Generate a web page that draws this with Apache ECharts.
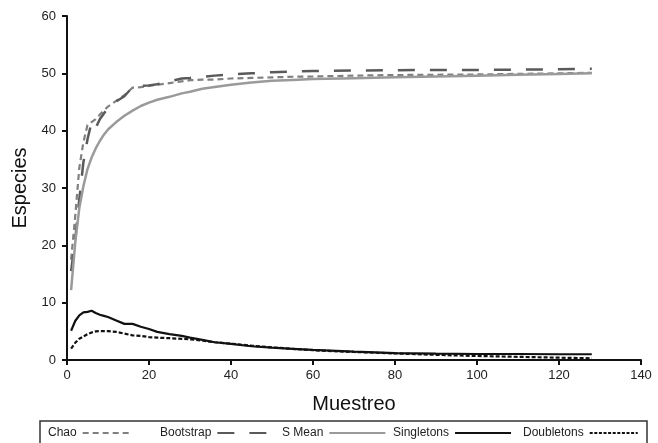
<!DOCTYPE html>
<html>
<head>
<meta charset="utf-8">
<script src="https://cdn.jsdelivr.net/npm/echarts@6/dist/echarts.min.js"></script>
<style>html,body{margin:0;padding:0;background:#fff}#c{width:658px;height:443px}</style>
</head>
<body>
<div id="c"></div>
<script>
const samples   = [1,2,3,4,5,6,7,8,9,10,12,14,16,18,20,22,25,28,30,33,36,40,45,50,55,60,70,80,90,100,110,120,128];
const chao      = [17.5,25,33.5,38,41,41.5,42,42.8,43.5,44.2,45.2,46.2,47.5,47.6,47.8,48.0,48.3,48.6,48.8,48.9,48.9,49.1,49.2,49.3,49.4,49.45,49.6,49.7,49.75,49.8,49.9,50.0,50.1];
const bootstrap = [15.5,21,28,34.5,38.5,41.5,40.5,42,43,44,45.1,46,47.6,47.8,47.9,48.1,48.6,49.1,49.2,49.4,49.6,49.8,50.0,50.2,50.3,50.4,50.5,50.55,50.6,50.6,50.65,50.7,50.8];
const sMean     = [12.2,20.4,26.5,30.3,33.3,35.3,36.9,38.2,39.3,40.2,41.5,42.6,43.5,44.3,44.9,45.4,45.9,46.5,46.8,47.3,47.6,48.0,48.4,48.7,48.85,49.0,49.15,49.3,49.45,49.6,49.75,49.9,50.0];
const singletons= [5.1,6.8,7.8,8.3,8.4,8.6,8.2,7.9,7.7,7.5,6.9,6.3,6.3,5.8,5.4,4.9,4.5,4.2,3.9,3.5,3.1,2.8,2.4,2.15,1.95,1.75,1.45,1.2,1.1,1.05,1.05,1.0,1.0];
const doubletons= [2.0,3.0,3.7,4.1,4.5,4.8,5.0,5.05,5.05,5.05,4.9,4.6,4.3,4.2,4.0,3.9,3.8,3.7,3.6,3.4,3.1,2.85,2.5,2.2,1.95,1.7,1.4,1.15,0.9,0.7,0.55,0.4,0.3];
const seriesNames = ['Chao','Bootstrap','S Mean','Singletons','Doubletons'];

const pair = arr => samples.map((x,i)=>[x,arr[i]]);
const font = 'Liberation Sans, Arial, sans-serif';
function line(name, arr, color, width, type){
  return {name, type:'line', data:pair(arr), symbol:'none', smooth:false,
    lineStyle:{color, width, type}, itemStyle:{color}, z: 2};
}
const legendLeft = [48,160,282,393,523];
const legendIconW = [50,50,56,56,48];
const legendDash = [null,null,null,null,[3,1.6]];
const legends = seriesNames.map((n,i)=>({
  data:[n], left:legendLeft[i], top:427, align:'right', padding:0,
  itemWidth:legendIconW[i], itemHeight:10, itemStyle:{opacity:0},
  lineStyle: legendDash[i] ? {type:legendDash[i]} : {},
  textStyle:{fontSize:12, color:'#222', fontFamily:font, padding:[0,1,0,0]}
}));
const chart = echarts.init(document.getElementById('c'), null, {renderer:'canvas'});
chart.setOption({
  animation:false,
  backgroundColor:'#fff',
  grid:{left:67, right:17, top:16, bottom:83, containLabel:false},
  xAxis:{type:'value', min:0, max:140, interval:20,
    name:'Muestreo', nameLocation:'middle', nameGap:34,
    nameTextStyle:{fontSize:20, color:'#111', fontFamily:font},
    axisLine:{show:true, lineStyle:{color:'#111', width:2}},
    axisTick:{show:true, length:5, lineStyle:{color:'#111', width:2}},
    axisLabel:{fontSize:13, color:'#222', fontFamily:font, margin:9},
    splitLine:{show:false}},
  yAxis:{type:'value', min:0, max:60, interval:10,
    name:'Especies', nameLocation:'middle', nameGap:34,
    nameTextStyle:{fontSize:20, color:'#111', fontFamily:font},
    axisLine:{show:true, lineStyle:{color:'#111', width:2}},
    axisTick:{show:true, length:5, lineStyle:{color:'#111', width:2}},
    axisLabel:{fontSize:13, color:'#222', fontFamily:font, margin:11},
    splitLine:{show:false}},
  legend:legends,
  graphic:[{type:'rect', shape:{x:40, y:421, width:607, height:40},
    style:{fill:'none', stroke:'#333', lineWidth:1.5}, silent:true}],
  series:[
    line('Chao', chao, '#808080', 2.2, [6,4]),
    line('Bootstrap', bootstrap, '#5a5a5a', 2.5, [17,15]),
    line('S Mean', sMean, '#9a9a9a', 2.5, 'solid'),
    line('Singletons', singletons, '#111', 2.2, 'solid'),
    line('Doubletons', doubletons, '#111', 2.2, [4,2])
  ]
});
</script>
</body>
</html>
